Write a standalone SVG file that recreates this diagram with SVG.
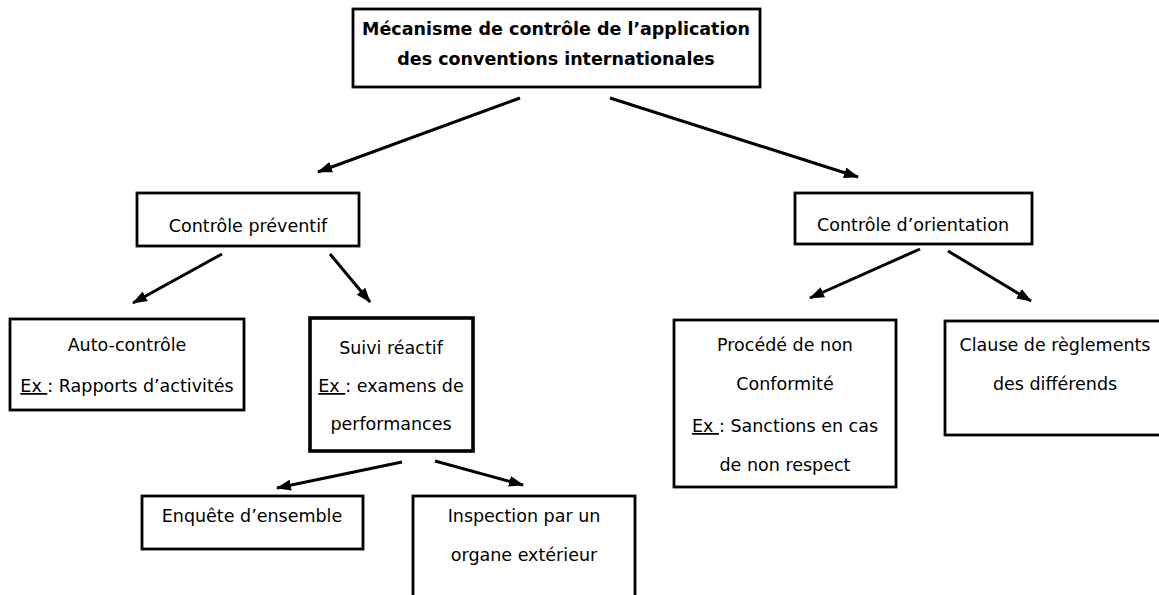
<svg xmlns="http://www.w3.org/2000/svg" width="1159" height="595" viewBox="0 0 1159 595">
<defs>
<marker id="ah" markerUnits="userSpaceOnUse" markerWidth="15" markerHeight="12" refX="14" refY="5.5" orient="auto">
<path d="M0,0 L15,5.5 L0,11 Z" fill="#000"/>
</marker>
<style>
.box{fill:#fff;stroke:#000;stroke-width:2.8}
.thick{stroke-width:3.6}
.t{font-family:"DejaVu Sans",Verdana,sans-serif;font-size:17.5px;fill:#000;text-anchor:middle}
.b{font-weight:bold;font-size:17.5px}
.c{stroke:#000;stroke-width:3;fill:none;marker-end:url(#ah)}
</style>
</defs>
<rect width="1159" height="595" fill="#fff"/>
<g id="connectors">
<line class="c" x1="520" y1="98" x2="318" y2="172"/>
<line class="c" x1="610" y1="98" x2="858" y2="177"/>
<line class="c" x1="222" y1="254" x2="133" y2="303"/>
<line class="c" x1="330" y1="254" x2="370" y2="302"/>
<line class="c" x1="402" y1="462" x2="277" y2="488"/>
<line class="c" x1="435" y1="461" x2="523" y2="485"/>
<line class="c" x1="920" y1="249" x2="810" y2="298"/>
<line class="c" x1="948" y1="251" x2="1031" y2="301"/>
</g>
<g id="root">
<rect class="box" x="353" y="9" width="407" height="78"/>
<text class="t b" x="556" y="35">Mécanisme de contrôle de l’application</text>
<text class="t b" x="556" y="65">des conventions internationales</text>
</g>
<g id="preventif">
<rect class="box" x="137" y="193" width="222" height="53"/>
<text class="t" x="248" y="232">Contrôle préventif</text>
</g>
<g id="orientation">
<rect class="box" x="795" y="193" width="237" height="51"/>
<text class="t" x="913" y="231">Contrôle d’orientation</text>
</g>
<g id="auto">
<rect class="box" x="10" y="319" width="234" height="91"/>
<text class="t" x="127" y="351">Auto-contrôle</text>
<text class="t" x="127" y="392"><tspan text-decoration="underline">Ex </tspan>: Rapports d’activités</text>
</g>
<g id="suivi">
<rect class="box thick" x="310" y="318" width="163" height="133"/>
<text class="t" x="391" y="354">Suivi réactif</text>
<text class="t" x="391" y="392"><tspan text-decoration="underline">Ex </tspan>: examens de</text>
<text class="t" x="391" y="430">performances</text>
</g>
<g id="enquete">
<rect class="box" x="142" y="496" width="221" height="53"/>
<text class="t" x="252" y="522">Enquête d’ensemble</text>
</g>
<g id="inspection">
<rect class="box" x="413" y="496" width="222" height="110"/>
<text class="t" x="524" y="522">Inspection par un</text>
<text class="t" x="524" y="561">organe extérieur</text>
</g>
<g id="procede">
<rect class="box" x="674" y="320" width="222" height="167"/>
<text class="t" x="785" y="351">Procédé de non</text>
<text class="t" x="785" y="390">Conformité</text>
<text class="t" x="785" y="432"><tspan text-decoration="underline">Ex </tspan>: Sanctions en cas</text>
<text class="t" x="785" y="471">de non respect</text>
</g>
<g id="clause">
<rect class="box" x="945" y="321" width="220" height="114"/>
<text class="t" x="1055" y="351">Clause de règlements</text>
<text class="t" x="1055" y="390">des différends</text>
</g>
</svg>
